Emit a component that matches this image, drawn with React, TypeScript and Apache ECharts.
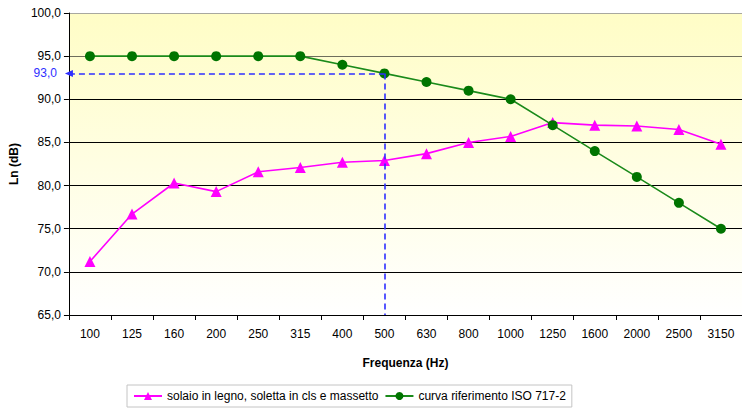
import React, { useEffect, useRef } from "react";
import * as echarts from "echarts";

const categories = ["100", "125", "160", "200", "250", "315", "400", "500", "630", "800", "1000", "1250", "1600", "2000", "2500", "3150"];
const solaioValues = [71.2, 76.7, 80.3, 79.3, 81.6, 82.1, 82.7, 82.9, 83.7, 85.0, 85.7, 87.3, 87.0, 86.9, 86.5, 84.8];
const isoRefValues = [95, 95, 95, 95, 95, 95, 94, 93, 92, 91, 90, 87, 84, 81, 78, 75];
const yTicks = [65, 70, 75, 80, 85, 90, 95, 100];
const refFrequency = "500";
const seriesNames = ["solaio in legno, soletta in cls e massetto", "curva riferimento ISO 717-2"];

const fmt = (v: number) => v.toFixed(1).replace(".", ",");
const FONT = '"Liberation Sans", Arial, sans-serif';

export default function App() {
  const ref = useRef<HTMLDivElement>(null);
  useEffect(() => {
    if (!ref.current) return;
    const chart = echarts.init(ref.current, undefined, { renderer: "svg" });
    const refIdx = categories.indexOf(refFrequency);
    const refVal = isoRefValues[refIdx];
    const yMin = yTicks[0];
    const yMax = yTicks[yTicks.length - 1];
    chart.setOption({
      animation: false,
      textStyle: { fontFamily: FONT },
      grid: {
        left: 67,
        top: 13,
        right: -8,
        bottom: 93,
        show: true,
        borderWidth: 0,
        backgroundColor: new echarts.graphic.LinearGradient(0, 0, 0, 1, [
          { offset: 0, color: "#FFFDC6" },
          { offset: 1, color: "#FFFFFF" },
        ]),
      },
      legend: {
        bottom: 1,
        left: 127,
        padding: [5, 6, 5, 6],
        borderColor: "#c4c4c4",
        borderWidth: 1,
        itemWidth: 28,
        itemHeight: 10,
        itemGap: 6,
        textStyle: { fontFamily: FONT, fontSize: 12, color: "#000" },
        data: seriesNames,
      },
      xAxis: [
        {
          type: "category",
          data: categories,
          boundaryGap: true,
          name: "Frequenza (Hz)",
          nameLocation: "middle",
          nameGap: 42,
          nameTextStyle: { fontFamily: FONT, fontSize: 12, fontWeight: "bold", color: "#000" },
          axisLine: { lineStyle: { color: "#000", width: 1 } },
          axisTick: { show: true, length: 5, lineStyle: { color: "#000" } },
          axisLabel: { fontFamily: FONT, fontSize: 12, color: "#000", margin: 13, interval: 0 },
          splitLine: { show: false },
        },
        {
          type: "value",
          min: 0,
          max: categories.length,
          show: false,
          splitLine: { show: false },
        },
      ],
      yAxis: {
        type: "value",
        min: yMin,
        max: yMax,
        interval: 5,
        name: "Ln (dB)",
        nameLocation: "middle",
        nameGap: 45,
        nameRotate: 90,
        nameTextStyle: { fontFamily: FONT, fontSize: 12, fontWeight: "bold", color: "#000" },
        axisLine: { show: true, lineStyle: { color: "#000", width: 1 } },
        axisTick: { show: true, length: 5, lineStyle: { color: "#000" } },
        axisLabel: { fontFamily: FONT, fontSize: 12, color: "#000", margin: 8, formatter: (v: number) => fmt(v) },
        splitLine: {
          show: true,
          lineStyle: {
            color: ["#000", "#000", "#000", "#000", "#000", "#000", "#6e6e5c", "#a8a8a0"],
            width: 1.2,
          },
        },
      },
      series: [
        {
          name: "annotation",
          type: "line",
          xAxisIndex: 1,
          data: [],
          z: 1,
          markLine: {
            silent: true,
            symbol: ["none", "none"],
            lineStyle: { color: "#2f2fff", type: [6, 4], width: 1.6 },
            label: { show: false },
            data: [
              [
                {
                  coord: [0, refVal],
                  symbol: "triangle",
                  symbolSize: [7, 8],
                  symbolRotate: 90,
                  label: {
                    show: true,
                    position: "start",
                    distance: 12,
                    formatter: fmt(refVal),
                    color: "#2f2fff",
                    fontFamily: FONT,
                    fontSize: 12,
                  },
                },
                { coord: [refIdx + 0.5, refVal], symbol: "none" },
              ],
              [
                { coord: [refIdx + 0.5, refVal], symbol: "none" },
                { coord: [refIdx + 0.5, yMin], symbol: "none" },
              ],
            ],
          },
        },
        {
          name: seriesNames[0],
          type: "line",
          data: solaioValues,
          z: 3,
          symbol: "triangle",
          symbolSize: 11,
          lineStyle: { color: "#ff00ff", width: 1.6 },
          itemStyle: { color: "#ff00ff" },
        },
        {
          name: seriesNames[1],
          type: "line",
          data: isoRefValues,
          z: 4,
          symbol: "circle",
          symbolSize: 10,
          lineStyle: { color: "#1a8a1a", width: 1.6 },
          itemStyle: { color: "#007400" },
        },
      ],
    });
    return () => chart.dispose();
  }, []);
  return (
    <div
      ref={ref}
      style={{ position: "fixed", left: 0, top: 0, width: 742, height: 408, background: "#fff" }}
    />
  );
}
